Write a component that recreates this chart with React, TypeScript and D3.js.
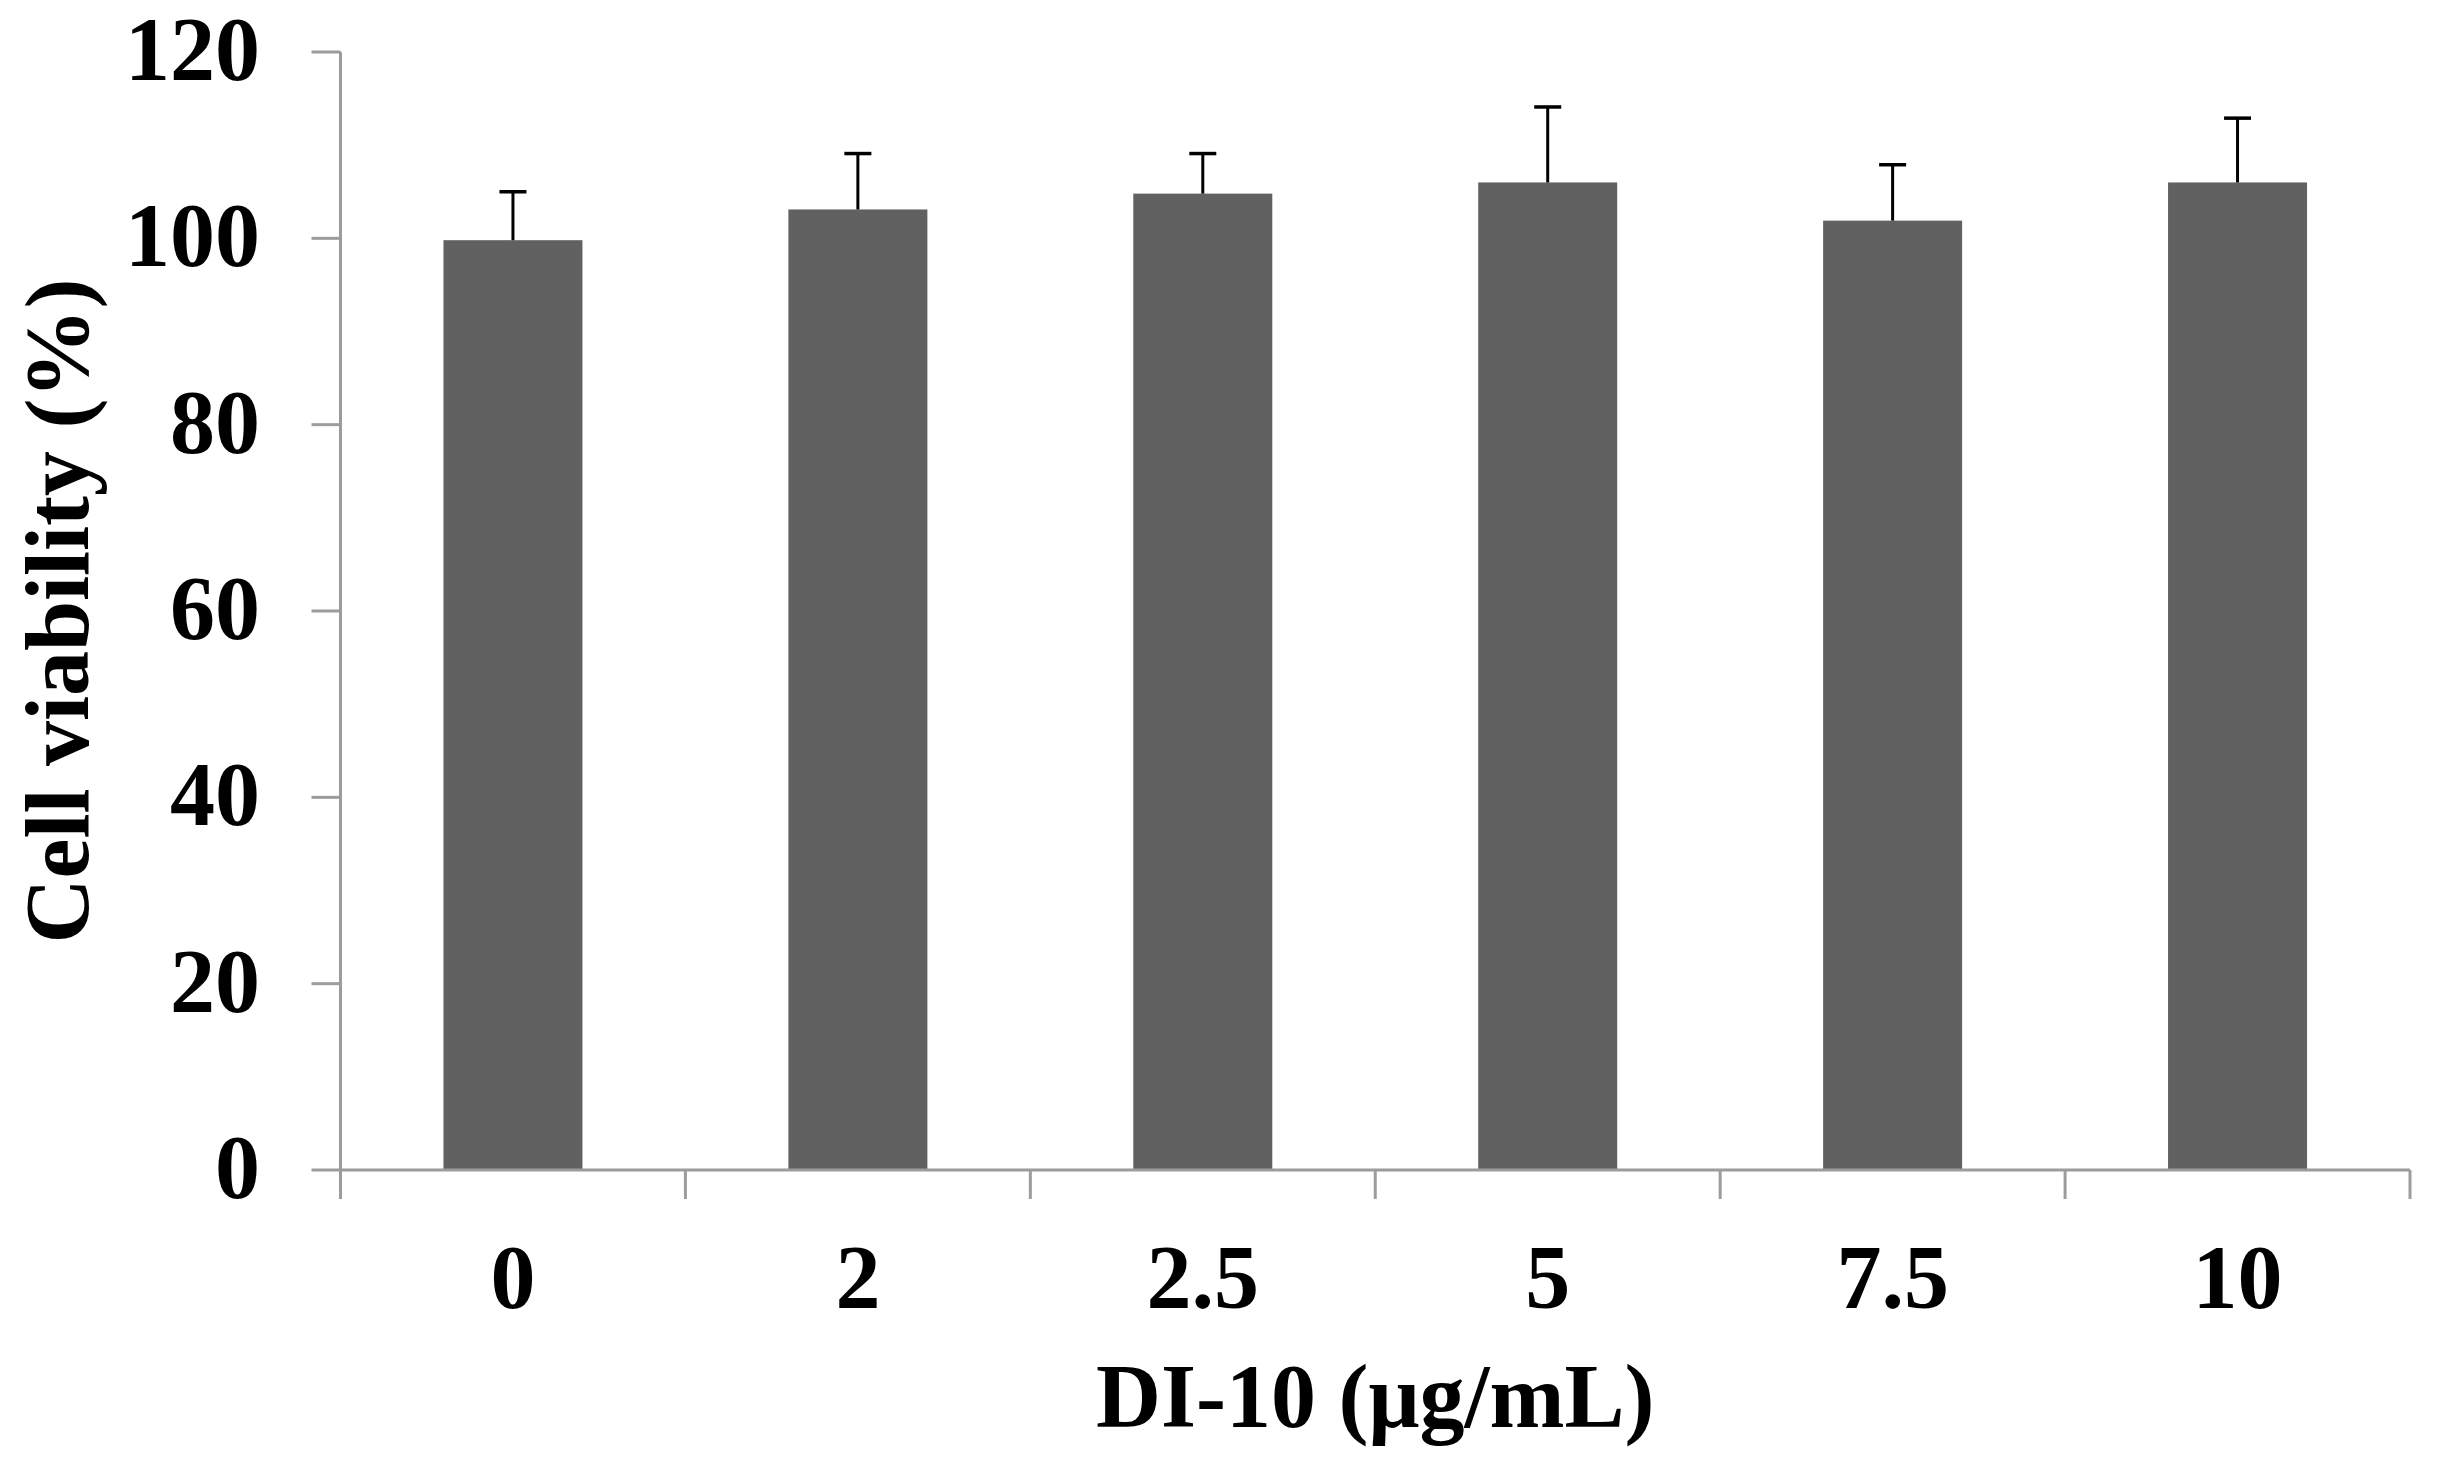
import React from "react";
import * as d3 from "d3";

const categories = ["0", "2", "2.5", "5", "7.5", "10"];
const means = [99.8, 103.1, 104.8, 106.0, 101.9, 106.0];
const errors = [5.2, 6.0, 4.3, 8.1, 6.0, 6.9];
const yTicks = [0, 20, 40, 60, 80, 100, 120];
const xTitle = "DI-10 (μg/mL)";
const yTitle = "Cell viability (%)";

const W = 2438;
const H = 1473;
const left = 340.5;
const right = 2410;
const top = 52;
const bottom = 1170;
const font = "'Liberation Serif', 'Times New Roman', serif";
const fs = 90;

export default function App() {
  const x = d3.scaleBand<string>().domain(categories).range([left, right]).padding(0);
  const y = d3.scaleLinear().domain([0, 120]).range([bottom, top]);
  const bw = x.bandwidth() * 0.403;
  const axisColor = "#9c9c9c";
  const boundaries = d3.range(categories.length + 1).map((i) => left + i * x.step());

  return (
    <svg
      width={W}
      height={H}
      style={{ position: "absolute", left: 0, top: 0, background: "#fff" }}
      fontFamily={font}
    >
      <rect x={0} y={0} width={W} height={H} fill="#fff" />
      {/* bars */}
      {categories.map((c, i) => {
        const cx = (x(c) as number) + x.bandwidth() / 2;
        return (
          <g key={c}>
            <rect x={cx - bw / 2} y={y(means[i])} width={bw} height={y(0) - y(means[i])} fill="#616161" />
            <line x1={cx} x2={cx} y1={y(means[i])} y2={y(means[i] + errors[i])} stroke="#000" strokeWidth={3} />
            <line x1={cx - 13.5} x2={cx + 13.5} y1={y(means[i] + errors[i])} y2={y(means[i] + errors[i])} stroke="#000" strokeWidth={3.5} />
          </g>
        );
      })}
      {/* y axis */}
      <line x1={left} x2={left} y1={y(120)} y2={y(0)} stroke={axisColor} strokeWidth={3} />
      {yTicks.map((t) => (
        <g key={t}>
          <line x1={left - 29} x2={left} y1={y(t)} y2={y(t)} stroke={axisColor} strokeWidth={3} />
          <text x={260} y={y(t) + 28} textAnchor="end" fontSize={fs} fontWeight="bold" fill="#000">
            {t}
          </text>
        </g>
      ))}
      {/* x axis */}
      <line x1={left} x2={right} y1={y(0)} y2={y(0)} stroke={axisColor} strokeWidth={3} />
      {boundaries.map((b, i) => (
        <line key={i} x1={b} x2={b} y1={y(0)} y2={y(0) + 29} stroke={axisColor} strokeWidth={3} />
      ))}
      {categories.map((c) => (
        <text
          key={c}
          x={(x(c) as number) + x.bandwidth() / 2}
          y={1308}
          textAnchor="middle"
          fontSize={fs}
          fontWeight="bold"
          fill="#000"
        >
          {c}
        </text>
      ))}
      <text x={(left + right) / 2} y={1427} textAnchor="middle" fontSize={fs} fontWeight="bold" fill="#000">
        {xTitle}
      </text>
      <text
        transform={`translate(88, ${(top + bottom) / 2}) rotate(-90)`}
        textAnchor="middle"
        fontSize={fs}
        fontWeight="bold"
        fill="#000"
      >
        {yTitle}
      </text>
    </svg>
  );
}
